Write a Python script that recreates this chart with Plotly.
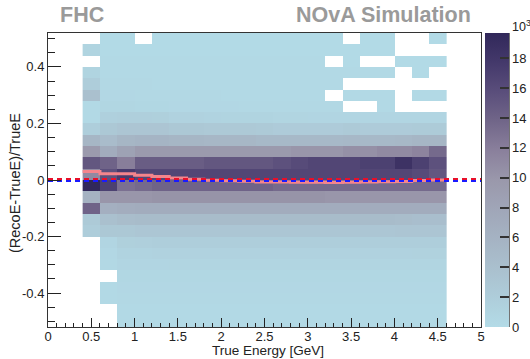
import plotly.graph_objects as go

N = None
# bin edges
x_edges = [0.4 + 0.2 * i for i in range(22)]          # 0.4 ... 4.6
y_edges = [-0.52 + 0.04 * i for i in range(27)]       # -0.52 ... 0.52

# counts (x10^3), rows from y=-0.50 (bottom) to y=0.50 (top), 21 columns (0.5 ... 4.5 GeV)
z_rows = [
    [N, N] + [0.3] * 19,                                                   # -0.50
    [N, N] + [0.3] * 19,                                                   # -0.46
    [N, 0.3] + [0.4] * 19,                                                 # -0.42
    [N, 0.3] + [0.5] * 19,                                                 # -0.38
    [N, N] + [0.6] * 19,                                                   # -0.34
    [N, 0.4, 0.8, 0.8, 0.8] + [0.9] * 16,                                  # -0.30
    [N, 0.5, 1.1, 1.1] + [1.2] * 15 + [1.3, 1.3],                          # -0.26
    [N, 0.8, 1.6, 1.7] + [1.8] * 17,                                       # -0.22
    [2.0, 2.8, 2.8] + [3.0] * 15 + [3.2, 3.2, 3.2],                        # -0.18
    [2.5, 4.0, 4.4] + [4.6] * 15 + [4.4, 4.2, 4.2],                        # -0.14
    [14.0, 6.5, 6.8] + [7.0] * 18,                                         # -0.10
    [6.0, 10.0, 10.0, 10.0] + [10.2] * 10 + [10.0] * 7,                    # -0.06
    [19.7, 17.0, 13.0, 13.5] + [14.0] * 7 + [13.5] * 10,                   # -0.02
    [11.0, 15.5, 17.5] + [16.5] * 16 + [16.0, 15.0],                       #  0.02
    [15.0, 14.0, 12.0, 14.5, 14.5, 14.5, 14.5, 15.0, 15.0, 15.0, 15.0,
     15.5, 16.0, 16.5, 16.5, 16.5, 17.0, 17.0, 18.5, 17.0, 15.5],          #  0.06
    [9.5, 7.0, 8.5, 9.5, 9.5, 9.5, 9.5, 9.5, 9.5, 9.5, 9.5,
     9.5, 10.0, 10.0, 10.0, 10.5, 10.5, 11.0, 11.0, 11.5, 13.5],           #  0.10
    [5.5, 4.5, 5.5, 5.8, 5.8, 5.5, 5.5, 5.3, 5.3, 5.3, 5.0,
     5.0, 5.0, 5.0, 5.0, 5.2, 5.0, 5.0, 5.2, 5.5, 5.5],                    #  0.14
    [1.8, 2.8, 3.2, 3.2, 3.2, 2.8, 2.8, 2.6, 2.6, 2.6, 2.4,
     2.2, 2.2, 2.2, 2.2, 2.5, 2.2, 2.2, 2.2, 2.3, 2.3],                    #  0.18
    [0.3, 1.5, 1.7, 1.7, 1.6, 1.2, 1.2, 1.1, 1.0, 1.0, 1.0,
     0.9, 0.9, 0.8, 0.8, 0.8, 0.8, 0.8, 0.8, 0.8, 0.8],                    #  0.22
    [0.3, 0.7, 0.7, 0.6, 0.6, 0.5, 0.5, 0.5, 0.5, 0.4, 0.4,
     0.4, 0.4, 0.4, 0.4, N, N, 0.3, N, N, N],                              #  0.26
    [4.0, 0.5, 0.5, 0.4, 0.4, 0.4, 0.4, 0.4, 0.3, 0.3, 0.3,
     0.3, 0.3, 0.3, N, 0.3, 0.3, 0.3, N, 0.3, 0.3],                        #  0.30
    [2.0, 0.4, 0.4, 0.4, 0.3, 0.3, 0.3, 0.3, 0.3, 0.3, 0.3,
     0.3, 0.3, 0.3, 0.3, N, N, N, N, N, N],                                #  0.34
    [1.0] + [0.3] * 17 + [N, 0.2, N],                                      #  0.38
    [N] + [0.3] * 13 + [N, 0.2, N, N, 0.2, 0.2, 0.2],                      #  0.42
    [1.0] + [0.2] * 17 + [N, N, N],                                        #  0.46
    [N, 0.2, 0.2, N] + [0.2] * 11 + [N, 0.2, 0.2, N, N, 0.2],              #  0.50
]

# profile mean of (RecoE-TrueE)/TrueE per true-energy bin
profile_mean = [0.030, 0.022, 0.022, 0.017, 0.012, 0.007, 0.003, -0.001, -0.003,
                -0.004, -0.007, -0.007, -0.008, -0.008, -0.009, -0.008, -0.007,
                -0.006, -0.005, -0.002, 0.000]

ref_x = [0, 5]
ref_red_y = 0.0035
ref_blue_y = -0.0035

x_tickvals = [0, 0.5, 1, 1.5, 2, 2.5, 3, 3.5, 4, 4.5, 5]
x_ticktext = ["0", "0.5", "1", "1.5", "2", "2.5", "3", "3.5", "4", "4.5", "5"]
y_tickvals = [-0.4, -0.2, 0, 0.2, 0.4]
y_ticktext = ["-0.4", "-0.2", "0", "0.2", "0.4"]
cb_tickvals = [0, 2, 4, 6, 8, 10, 12, 14, 16, 18]

colorscale = [
    [0.00, "#b3dbe7"],
    [0.10, "#aecdda"],
    [0.20, "#aac0ce"],
    [0.30, "#a5b3c3"],
    [0.40, "#a0a6b8"],
    [0.50, "#9a98ab"],
    [0.60, "#8a809c"],
    [0.70, "#716689"],
    [0.80, "#5a4e7b"],
    [0.90, "#44396b"],
    [1.00, "#31285a"],
]

FONT = "Liberation Sans, Arial, Helvetica, sans-serif"

fig = go.Figure()
fig.add_trace(go.Heatmap(
    x=x_edges, y=y_edges, z=z_rows,
    zmin=0, zmax=19.7, colorscale=colorscale, hoverongaps=False,
    colorbar=dict(
        x=1.0092, xanchor="left", xpad=0, ypad=0, y=0.5, yanchor="middle",
        len=1, thickness=24, outlinewidth=0,
        tickvals=cb_tickvals, ticks="inside", ticklen=9, tickcolor="#333",
        tickwidth=1.5,
        tickfont=dict(family=FONT, size=13, color="#222"),
    ),
))

# profile (step line)
fig.add_trace(go.Scatter(
    x=x_edges, y=profile_mean + [profile_mean[-1]], mode="lines",
    line=dict(color="#f4858c", width=3, shape="hv"), hoverinfo="skip",
    showlegend=False,
))
fig.add_trace(go.Scatter(
    x=ref_x, y=[ref_blue_y] * 2, mode="lines",
    line=dict(color="#1a1aff", width=2.2, dash="5px,4px"), showlegend=False,
))
fig.add_trace(go.Scatter(
    x=ref_x, y=[ref_red_y] * 2, mode="lines",
    line=dict(color="#e8102a", width=2.2, dash="5px,4px"), showlegend=False,
))

axis_common = dict(
    showgrid=False, zeroline=False, showline=True, linecolor="#333", linewidth=1,
    mirror=True, ticks="inside", tickcolor="#222", tickwidth=1,
    tickfont=dict(family=FONT, size=13, color="#222"),
)
fig.update_xaxes(
    range=[0, 5], tickvals=x_tickvals, ticktext=x_ticktext, ticklen=9,
    minor=dict(dtick=0.1, tick0=0, ticklen=4, ticks="inside", tickcolor="#222"),
    automargin=False, ticklabelstandoff=-3, **axis_common,
)
fig.update_yaxes(
    range=[-0.52, 0.52], tickvals=y_tickvals, ticktext=y_ticktext, ticklen=13,
    minor=dict(dtick=0.05, tick0=0, ticklen=7, ticks="inside", tickcolor="#222"),
    automargin=False, **axis_common,
)

W, H = 530, 359
L, R, T, B = 48, 49, 33, 32
pw, ph = W - L - R, H - T - B

def px_x(p):
    return (p - L) / pw

def px_y(p):
    return (H - B - p) / ph

annotations = [
    dict(text="<b>FHC</b>", x=px_x(58), y=px_y(15.5), xanchor="left", yanchor="middle",
         font=dict(family=FONT, size=21.5, color="#9a9a9a")),
    dict(text="<b>NOvA Simulation</b>", x=px_x(473), y=px_y(15.5), xanchor="right",
         yanchor="middle", font=dict(family=FONT, size=21.5, color="#9a9a9a")),
    dict(text="True Energy [GeV]", x=px_x(268), y=px_y(350), xanchor="center",
         yanchor="middle", font=dict(family=FONT, size=13.5, color="#222")),
    dict(text="(RecoE-TrueE)/TrueE", x=px_x(15), y=px_y(183), xanchor="center",
         yanchor="middle", textangle=-90, font=dict(family=FONT, size=14.5, color="#222")),
    dict(text="10<sup>3</sup>", x=px_x(510), y=px_y(26), xanchor="left", yanchor="middle",
         font=dict(family=FONT, size=12.5, color="#222")),
]
for a in annotations:
    a.update(xref="paper", yref="paper", showarrow=False)

fig.update_layout(
    width=W, height=H, margin=dict(l=L, r=R, t=T, b=B, autoexpand=False),
    paper_bgcolor="white", plot_bgcolor="white",
    annotations=annotations,
    shapes=[dict(type="line", xref="paper", yref="paper", x0=px_x(509), x1=px_x(509),
                 y0=0, y1=1, line=dict(color="#444", width=1.5))],
    showlegend=False,
)

fig.write_html("out.html")
